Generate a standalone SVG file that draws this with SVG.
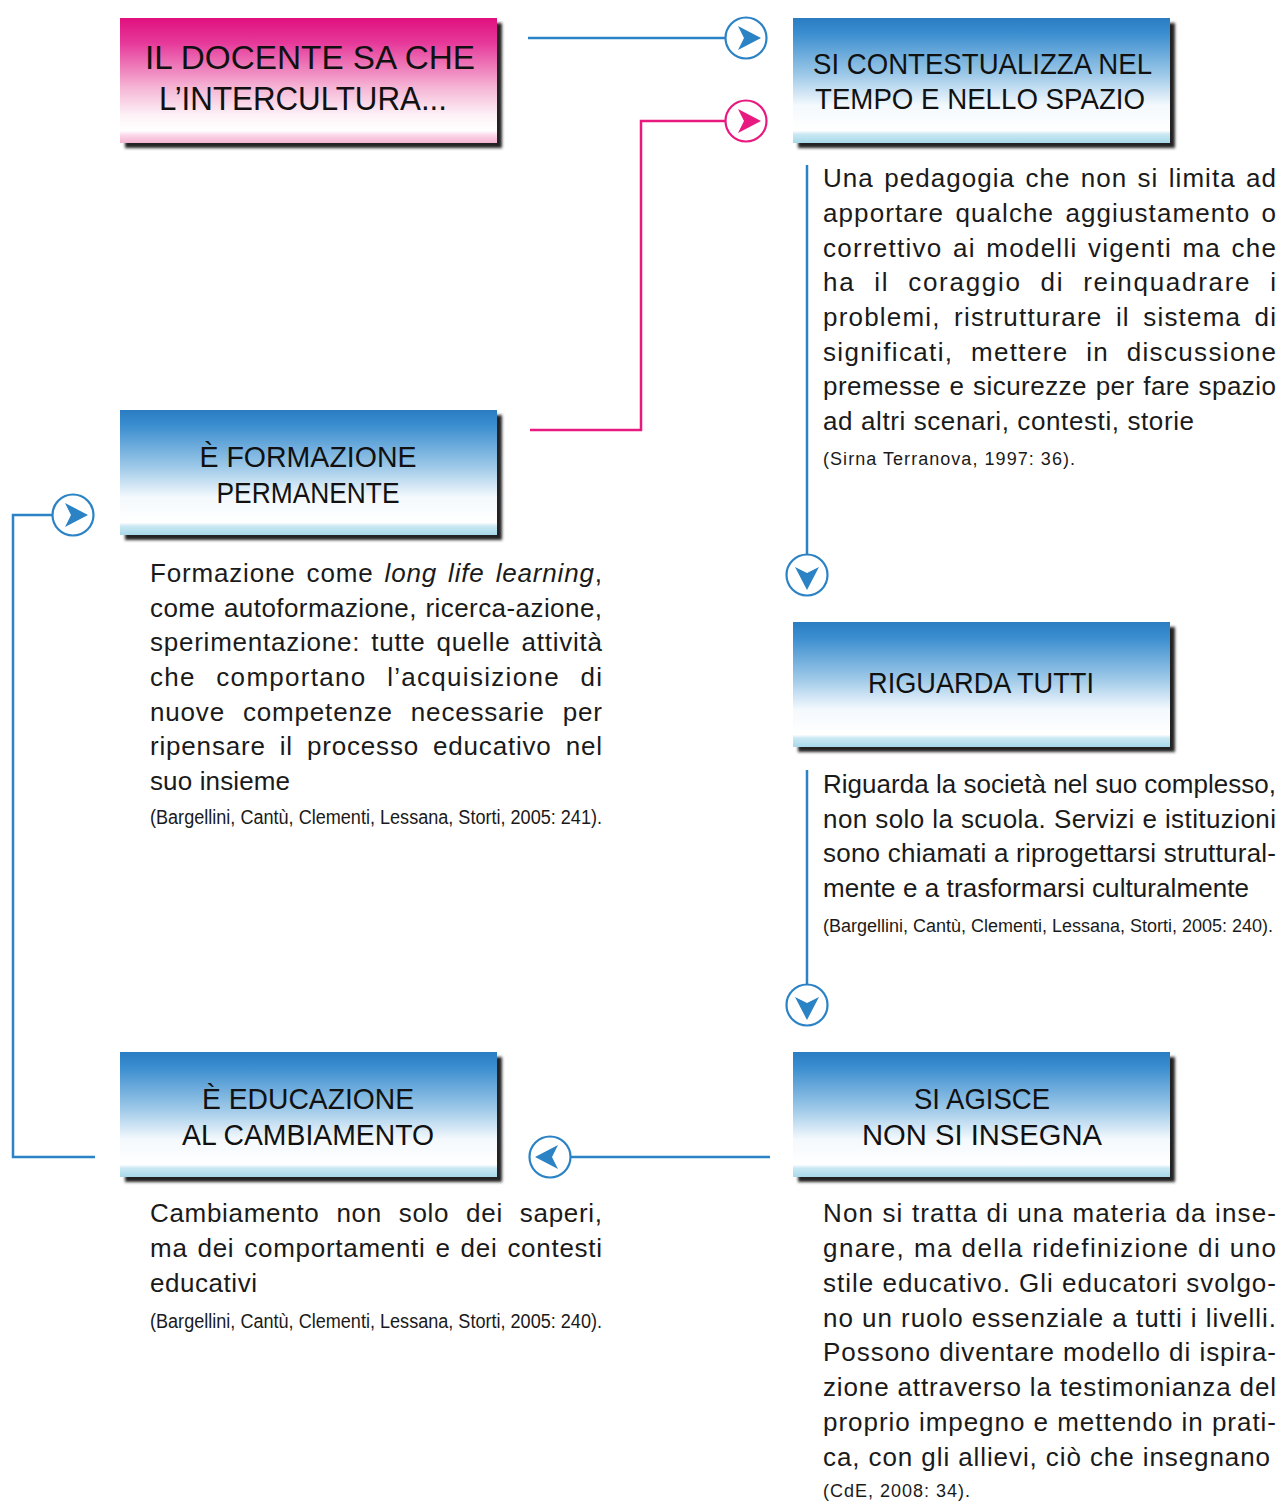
<svg xmlns="http://www.w3.org/2000/svg" width="1281" height="1506" viewBox="0 0 1281 1506">
<style>
.title{font-family:"Liberation Sans",Arial,sans-serif;font-size:30px;fill:#111;}
.ptitle{font-family:"Liberation Sans",Arial,sans-serif;font-size:33px;fill:#111;}
.body{font-family:"Liberation Sans",Arial,sans-serif;font-size:26px;fill:#1a1a1a;}
.cite{font-family:"Liberation Sans",Arial,sans-serif;font-size:18px;fill:#1a1a1a;}
.citec{font-family:"Liberation Sans",Arial,sans-serif;font-size:20px;fill:#1a1a1a;}
.blue{stroke:#2b82c4;stroke-width:2.5;fill:none;}
.pink{stroke:#e8197f;stroke-width:2.5;fill:none;}
.shadow{fill:#222;filter:url(#blur);}
</style>
<defs>
<filter id="blur" x="-5%" y="-10%" width="110%" height="120%"><feGaussianBlur stdDeviation="1.5"/></filter>
<linearGradient id="gBlue" x1="0" y1="0" x2="0" y2="1">
<stop offset="0" stop-color="#2a7dc2"/>
<stop offset="0.12" stop-color="#3a8dcf"/>
<stop offset="0.45" stop-color="#9cc8e8"/>
<stop offset="0.7" stop-color="#f4f9fd"/>
<stop offset="0.9" stop-color="#ffffff"/>
<stop offset="0.93" stop-color="#c9e8f3"/>
<stop offset="1" stop-color="#a8d8ea"/>
</linearGradient>
<linearGradient id="gPink" x1="0" y1="0" x2="0" y2="1">
<stop offset="0" stop-color="#e0107e"/>
<stop offset="0.2" stop-color="#e6399a"/>
<stop offset="0.55" stop-color="#f5b3d4"/>
<stop offset="0.78" stop-color="#fdf2f7"/>
<stop offset="0.9" stop-color="#ffffff"/>
<stop offset="0.94" stop-color="#fbd6e8"/>
<stop offset="1" stop-color="#f3b3d2"/>
</linearGradient>
<g id="circB">
<circle cx="0" cy="0" r="20.5" fill="#fff" stroke="#2b82c4" stroke-width="2.2"/>
<path d="M15 0 L-8 -12 L-2 0 L-8 12 Z" fill="#2b82c4"/>
</g>
<g id="circP">
<circle cx="0" cy="0" r="20.5" fill="#fff" stroke="#e8197f" stroke-width="2.2"/>
<path d="M15 0 L-8 -12 L-2 0 L-8 12 Z" fill="#e8197f"/>
</g>
</defs>
<rect x="0" y="0" width="1281" height="1506" fill="#ffffff"/>

<g id="connectors">
<path class="blue" d="M528 38 H735"/>
<path class="pink" d="M530 430 H641 V121 H735"/>
<path class="blue" d="M807 165 V565"/>
<path class="blue" d="M807 770 V995"/>
<path class="blue" d="M770 1157 H560"/>
<path class="blue" d="M95 1157 H13 V515 H62"/>
<use href="#circB" transform="translate(746,38)"/>
<use href="#circP" transform="translate(746,121)"/>
<use href="#circB" transform="translate(807,575) rotate(90)"/>
<use href="#circB" transform="translate(807,1005) rotate(90)"/>
<use href="#circB" transform="translate(550,1157) rotate(180)"/>
<use href="#circB" transform="translate(73,515)"/>
</g>

<g id="node-docente">
<rect class="shadow" x="125" y="23" width="377" height="125"/>
<rect x="120" y="18" width="377" height="125" fill="url(#gPink)"/>
<text class="ptitle" x="310" y="69" text-anchor="middle" textLength="330" lengthAdjust="spacingAndGlyphs">IL DOCENTE SA CHE</text>
<text class="ptitle" x="303" y="110" text-anchor="middle" textLength="288" lengthAdjust="spacingAndGlyphs">L’INTERCULTURA...</text>
</g>

<g id="node-contestualizza">
<rect class="shadow" x="798" y="23" width="377" height="125"/>
<rect x="793" y="18" width="377" height="125" fill="url(#gBlue)"/>
<text class="title" x="813" y="74" textLength="339" lengthAdjust="spacingAndGlyphs">SI CONTESTUALIZZA NEL</text>
<text class="title" x="815" y="109" textLength="330" lengthAdjust="spacingAndGlyphs">TEMPO E NELLO SPAZIO</text>
</g>

<g id="node-formazione">
<rect class="shadow" x="125" y="415" width="377" height="125"/>
<rect x="120" y="410" width="377" height="125" fill="url(#gBlue)"/>
<text class="title" x="308" y="467" text-anchor="middle" textLength="217" lengthAdjust="spacingAndGlyphs">È FORMAZIONE</text>
<text class="title" x="308" y="503" text-anchor="middle" textLength="183" lengthAdjust="spacingAndGlyphs">PERMANENTE</text>
</g>

<g id="node-riguarda">
<rect class="shadow" x="798" y="627" width="377" height="125"/>
<rect x="793" y="622" width="377" height="125" fill="url(#gBlue)"/>
<text class="title" x="981" y="693" text-anchor="middle" textLength="226" lengthAdjust="spacingAndGlyphs">RIGUARDA TUTTI</text>
</g>

<g id="node-educazione">
<rect class="shadow" x="125" y="1057" width="377" height="125"/>
<rect x="120" y="1052" width="377" height="125" fill="url(#gBlue)"/>
<text class="title" x="308" y="1109" text-anchor="middle" textLength="212" lengthAdjust="spacingAndGlyphs">È EDUCAZIONE</text>
<text class="title" x="308" y="1145" text-anchor="middle" textLength="252" lengthAdjust="spacingAndGlyphs">AL CAMBIAMENTO</text>
</g>

<g id="node-agisce">
<rect class="shadow" x="798" y="1057" width="377" height="125"/>
<rect x="793" y="1052" width="377" height="125" fill="url(#gBlue)"/>
<text class="title" x="982" y="1109" text-anchor="middle" textLength="136" lengthAdjust="spacingAndGlyphs">SI AGISCE</text>
<text class="title" x="982" y="1145" text-anchor="middle" textLength="240" lengthAdjust="spacingAndGlyphs">NON SI INSEGNA</text>
</g>

<g id="text-contestualizza">
<text class="body" x="823" y="187" textLength="453" lengthAdjust="spacing" word-spacing="2">Una pedagogia che non si limita ad</text>
<text class="body" x="823" y="222" textLength="453" lengthAdjust="spacing" word-spacing="3">apportare qualche aggiustamento o</text>
<text class="body" x="823" y="257" textLength="453" lengthAdjust="spacing" word-spacing="2">correttivo ai modelli vigenti ma che</text>
<text class="body" x="823" y="291" textLength="453" lengthAdjust="spacing" word-spacing="10">ha il coraggio di reinquadrare i</text>
<text class="body" x="823" y="326" textLength="453" lengthAdjust="spacing" word-spacing="5">problemi, ristrutturare il sistema di</text>
<text class="body" x="823" y="361" textLength="453" lengthAdjust="spacing" word-spacing="9">significati, mettere in discussione</text>
<text class="body" x="823" y="395" textLength="453" lengthAdjust="spacing" word-spacing="1">premesse e sicurezze per fare spazio</text>
<text class="body" x="823" y="430" textLength="371" lengthAdjust="spacing">ad altri scenari, contesti, storie</text>
<text class="cite" x="823" y="465" textLength="252" lengthAdjust="spacing">(Sirna Terranova, 1997: 36).</text>
</g>

<g id="text-formazione">
<text class="body" x="150" y="582" textLength="452" lengthAdjust="spacing" word-spacing="3">Formazione come <tspan font-style="italic">long life learning</tspan>,</text>
<text class="body" x="150" y="617" textLength="452" lengthAdjust="spacing" word-spacing="1">come autoformazione, ricerca-azione,</text>
<text class="body" x="150" y="651" textLength="452" lengthAdjust="spacing" word-spacing="3">sperimentazione: tutte quelle attività</text>
<text class="body" x="150" y="686" textLength="452" lengthAdjust="spacing" word-spacing="12">che comportano l’acquisizione di</text>
<text class="body" x="150" y="721" textLength="452" lengthAdjust="spacing" word-spacing="10">nuove competenze necessarie per</text>
<text class="body" x="150" y="755" textLength="452" lengthAdjust="spacing" word-spacing="6">ripensare il processo educativo nel</text>
<text class="body" x="150" y="790" textLength="140" lengthAdjust="spacing">suo insieme</text>
<text class="citec" x="150" y="824" textLength="452" lengthAdjust="spacingAndGlyphs">(Bargellini, Cantù, Clementi, Lessana, Storti, 2005: 241).</text>
</g>

<g id="text-riguarda">
<text class="body" x="823" y="793" textLength="453" lengthAdjust="spacing">Riguarda la società nel suo complesso,</text>
<text class="body" x="823" y="828" textLength="453" lengthAdjust="spacing">non solo la scuola. Servizi e istituzioni</text>
<text class="body" x="823" y="862" textLength="453" lengthAdjust="spacing">sono chiamati a riprogettarsi struttural-</text>
<text class="body" x="823" y="897" textLength="426" lengthAdjust="spacing">mente e a trasformarsi culturalmente</text>
<text class="cite" x="823" y="932" textLength="450" lengthAdjust="spacingAndGlyphs">(Bargellini, Cantù, Clementi, Lessana, Storti, 2005: 240).</text>
</g>

<g id="text-agisce">
<text class="body" x="823" y="1222" textLength="453" lengthAdjust="spacing">Non si tratta di una materia da inse-</text>
<text class="body" x="823" y="1257" textLength="453" lengthAdjust="spacing">gnare, ma della ridefinizione di uno</text>
<text class="body" x="823" y="1292" textLength="453" lengthAdjust="spacing">stile educativo. Gli educatori svolgo-</text>
<text class="body" x="823" y="1327" textLength="453" lengthAdjust="spacing">no un ruolo essenziale a tutti i livelli.</text>
<text class="body" x="823" y="1361" textLength="453" lengthAdjust="spacing">Possono diventare modello di ispira-</text>
<text class="body" x="823" y="1396" textLength="453" lengthAdjust="spacing">zione attraverso la testimonianza del</text>
<text class="body" x="823" y="1431" textLength="453" lengthAdjust="spacing">proprio impegno e mettendo in prati-</text>
<text class="body" x="823" y="1466" textLength="447" lengthAdjust="spacing">ca, con gli allievi, ciò che insegnano</text>
<text class="cite" x="823" y="1497" textLength="147" lengthAdjust="spacing">(CdE, 2008: 34).</text>
</g>

<g id="text-educazione">
<text class="body" x="150" y="1222" textLength="452" lengthAdjust="spacing" word-spacing="9">Cambiamento non solo dei saperi,</text>
<text class="body" x="150" y="1257" textLength="452" lengthAdjust="spacing" word-spacing="2">ma dei comportamenti e dei contesti</text>
<text class="body" x="150" y="1292" textLength="107" lengthAdjust="spacing">educativi</text>
<text class="citec" x="150" y="1328" textLength="452" lengthAdjust="spacingAndGlyphs">(Bargellini, Cantù, Clementi, Lessana, Storti, 2005: 240).</text>
</g>
</svg>
